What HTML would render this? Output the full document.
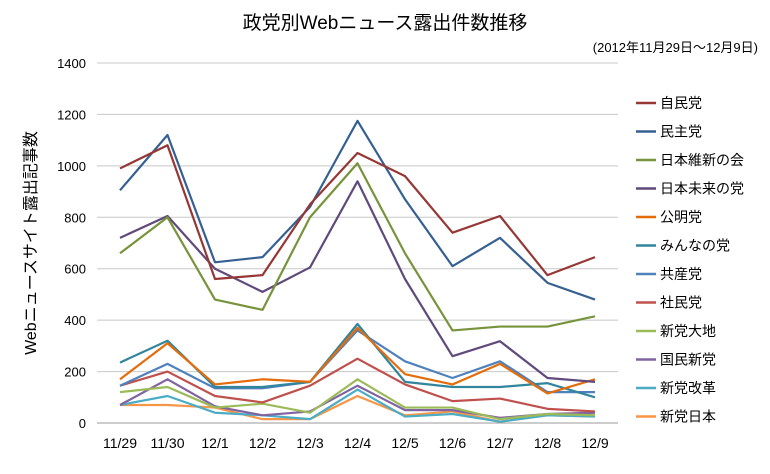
<!DOCTYPE html>
<html><head><meta charset="utf-8"><style>
body{margin:0;background:#fff;}
svg text{font-family:"Liberation Sans","Noto Sans CJK JP",sans-serif;fill:#000;}
</style></head><body>
<svg id="chart" width="770" height="469" xmlns="http://www.w3.org/2000/svg">
<rect width="770" height="469" fill="#fff"/>
<text x="385" y="29" font-size="19" text-anchor="middle">政党別Webニュース露出件数推移</text>
<text x="758" y="52" font-size="13" text-anchor="end">(2012年11月29日～12月9日)</text>
<text transform="translate(36,243) rotate(-90)" font-size="16" text-anchor="middle">Webニュースサイト露出記事数</text>
<g id="grid"></g><g id="series"></g><g id="legend"></g>
</svg>
<script>
const categories=["11/29","11/30","12/1","12/2","12/3","12/4","12/5","12/6","12/7","12/8","12/9"];
const yTicks=[0,200,400,600,800,1000,1200,1400];
const seriesNames=["自民党","民主党","日本維新の会","日本未来の党","公明党","みんなの党","共産党","社民党","新党大地","国民新党","新党改革","新党日本"];
const seriesColors=["#953735","#366092","#77933C","#604A7B","#E46C0A","#31859C","#4F81BD","#C0504D","#9BBB59","#8064A2","#4BACC6","#F79646"];
const jimin=[990,1080,560,575,850,1050,960,740,805,575,645];
const minshu=[905,1120,625,645,840,1175,870,610,720,545,480];
const ishin=[660,800,480,440,800,1010,660,360,375,375,415];
const mirai=[720,805,600,510,605,940,560,260,318,175,160];
const komei=[170,310,150,170,160,370,190,150,230,115,170];
const minna=[235,320,140,140,160,385,160,140,140,155,100];
const kyosan=[145,230,135,135,160,360,240,175,240,120,120];
const shamin=[145,200,105,80,145,250,150,85,95,55,45];
const daichi=[120,140,60,75,40,170,60,60,15,35,30];
const kokumin=[70,170,65,30,45,145,50,50,20,35,40];
const kaikaku=[70,105,40,30,15,130,25,35,5,30,25];
const nippon=[70,70,60,15,15,105,30,45,5,30,25];
const seriesValues=[jimin,minshu,ishin,mirai,komei,minna,kyosan,shamin,daichi,kokumin,kaikaku,nippon];

const NS="http://www.w3.org/2000/svg";
const x0=97,x1=618,y0=423,y1=63,ymax=1400;
const xFirst=120,xStep=47.5;
function xs(i){return xFirst+i*xStep;}
function ys(v){return y0-(v/ymax)*(y0-y1);}
function mk(tag,attrs,parent){const e=document.createElementNS(NS,tag);for(const k in attrs)e.setAttribute(k,attrs[k]);parent.appendChild(e);return e;}
const grid=document.getElementById('grid');
yTicks.forEach(t=>{
  const l=mk('line',{x1:x0,x2:x1,y1:ys(t),y2:ys(t),stroke:t===0?'#999':'#c8c8c8','stroke-width':1},grid);
  
  
  const tx=mk('text',{x:86,y:ys(t)+5,'font-size':13,'text-anchor':'end'},grid);
  tx.textContent=t;
  
  
});
categories.forEach((c,i)=>{
  const tx=mk('text',{x:xs(i),y:448,'font-size':14,'text-anchor':'middle'},grid);
  tx.textContent=c;
  
  
});
const sg=document.getElementById('series');
for(let s=seriesValues.length-1;s>=0;s--){
  const pts=seriesValues[s].map((v,i)=>xs(i)+','+ys(v)).join(' ');
  const p=mk('polyline',{points:pts,fill:'none',stroke:seriesColors[s],'stroke-width':2.2,'stroke-linejoin':'round'},sg);
  
  
}
const lg=document.getElementById('legend');
seriesNames.forEach((n,i)=>{
  const y=103+i*28.5;
  const l=mk('line',{x1:636,x2:656,y1:y,y2:y,stroke:seriesColors[i],'stroke-width':2.5},lg);
  
  
  const t=mk('text',{x:660,y:y+5,'font-size':14},lg);
  t.textContent=n;
  
  
});
</script>
</body></html>
